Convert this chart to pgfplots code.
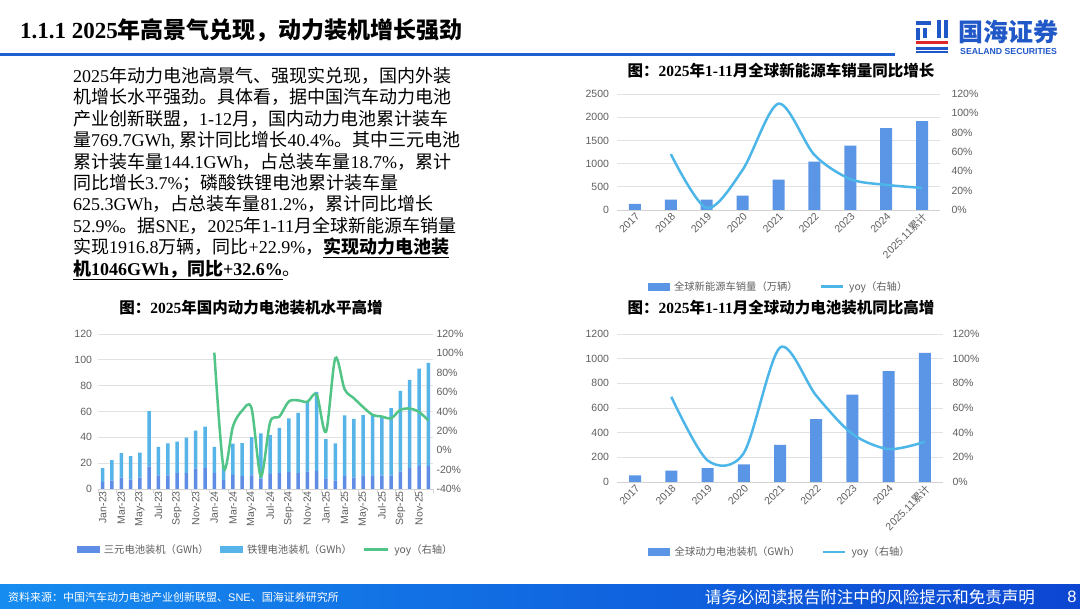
\documentclass[border=0pt]{standalone}
\usepackage{fontspec}
\usepackage{pgfplots}
\usepackage{pgfplotstable}
\pgfplotsset{compat=1.18}
\setmainfont{Liberation Serif}
\newfontfamily\cjk{Noto Sans CJK SC}
\newfontfamily\tnr{Liberation Serif}
\newfontfamily\arial{Liberation Sans}
\newcommand\en[1]{{\tnr #1}}

\definecolor{barblue}{RGB}{91,150,230}
\definecolor{lineblue}{RGB}{77,182,232}
\definecolor{ncm}{RGB}{95,140,228}
\definecolor{lfp}{RGB}{86,180,233}
\definecolor{yoygreen}{RGB}{82,196,136}
\definecolor{gridgray}{RGB}{226,226,226}
\definecolor{axgray}{RGB}{210,210,210}
\definecolor{tickgray}{RGB}{95,95,95}
\definecolor{hdrblue}{RGB}{30,95,210}
\definecolor{logoblue}{RGB}{32,88,200}
\definecolor{logored}{RGB}{220,40,40}
\definecolor{footL}{RGB}{22,140,240}
\definecolor{footR}{RGB}{12,70,210}

% global NEV sales (10k units), yoy %
\pgfplotstableread{
idx sales yoy
0 130 nan
1 223 57.8
2 222 2
3 310 41.5
4 656 110
5 1045 57
6 1390 32
7 1765 26
8 1917 22.9
}\nevtable

% global power battery installs (GWh), yoy %
\pgfplotstableread{
idx gwh yoy
0 54 nan
1 92 69
2 113 17.5
3 143 23.5
4 302 109
5 510 70
6 709 39
7 898 26.7
8 1046 32.6
}\battable

% domestic monthly installs: NCM, LFP (GWh), total yoy %
\pgfplotstableread{
idx ncm lfp yoy
0 5.5 10.7 nan
1 6.5 15.9 nan
2 8.8 19.0 nan
3 7.3 18.2 nan
4 8.8 19.3 nan
5 17.4 42.9 nan
6 10.6 22.1 nan
7 10.6 24.7 nan
8 12.2 24.4 nan
9 12.2 27.5 nan
10 15.8 29.3 nan
11 16.4 31.8 nan
12 12.5 20.2 100.8
13 6.8 11.2 -18.5
14 10.9 24.3 24.5
15 9.9 25.6 41
16 10.6 29.6 43.4
17 8.0 35.0 -27
18 11.7 30.0 29
19 12.2 35.2 34.8
20 13.0 41.6 50.3
21 12.2 46.8 51.5
22 13.5 54.2 50
23 14.0 61.2 57.5
24 8.3 30.3 19
25 6.5 28.8 95
26 9.9 47.1 63
27 8.8 45.5 53.7
28 10.6 46.6 44.5
29 10.6 47.4 36.6
30 10.4 45.5 34.8
31 10.4 52.2 33
32 13.5 62.5 41.7
33 16.1 68.4 43
34 17.9 75.3 39.6
35 17.9 79.7 30.7
}\domtable

\pgfplotsset{
  every axis/.append style={
    scale only axis, anchor=south west,
    major tick length=0pt,
    /pgf/number format/assume math mode=true,
    /pgf/number format/1000 sep={},
    tick label style={font=\arial\fontsize{10.5}{12}\selectfont, text=tickgray},
  },
  leftax/.style={
    axis x line*=bottom, axis y line*=left,
    y axis line style={draw=none},
    x axis line style={draw=axgray, line width=0.8pt},
    ymajorgrids, grid style={draw=gridgray, line width=0.8pt},
  },
  rightax/.style={
    axis y line*=right, axis x line=none, xtick=\empty,
    y axis line style={draw=none},
    yticklabel={\pgfmathprintnumber{\tick}\%},
  },
  lgd/.style={legend style={draw=none, fill=none, legend columns=-1,
    font=\cjk\fontsize{10.3}{12}\selectfont, text=tickgray,
    /tikz/every odd column/.append style={column sep=3pt},
    /tikz/every even column/.append style={column sep=20pt}}},
}

\begin{document}
\begin{tikzpicture}
\path[use as bounding box, fill=white] (0pt,0pt) rectangle (1080pt,-609pt);

% header
\node[anchor=west, inner sep=0] at (20pt,-30pt)
  {\cjk\bfseries\fontsize{23}{27}\selectfont \en{1.1.1 2025}年高景气兑现，动力装机增长强劲};
\fill[hdrblue] (0pt,-53pt) rectangle (895pt,-56pt);

% logo
\fill[logoblue] (916pt,-21pt) rectangle (931pt,-25pt);
\fill[logoblue] (916pt,-28pt) rectangle (920pt,-40pt);
\fill[logoblue] (923pt,-28pt) rectangle (927pt,-38pt);
\fill[logoblue] (937pt,-20pt) rectangle (941pt,-38pt);
\fill[logoblue] (944pt,-20pt) rectangle (948pt,-38pt);
\fill[logored] (916pt,-41pt) rectangle (948pt,-44.5pt);
\fill[logoblue] (916pt,-47pt) rectangle (948pt,-50pt);
\fill[logoblue] (916pt,-51.5pt) rectangle (948pt,-53.5pt);
\node[anchor=west, inner sep=0, text=logoblue] at (958pt,-32pt)
  {\cjk\bfseries\fontsize{25}{28}\selectfont 国海证券};
\node[anchor=west, inner sep=0, text=logoblue] at (960pt,-51.5pt)
  {\arial\bfseries\fontsize{8.7}{10}\selectfont SEALAND SECURITIES};

% body text
\begin{scope}[every node/.style={anchor=base west, inner sep=0, font=\cjk\fontsize{18}{21}\selectfont}]
\node at (73pt,-82.5pt) {\en{2025}年动力电池高景气、强现实兑现，国内外装};
\node at (73pt,-103.9pt) {机增长水平强劲。具体看，据中国汽车动力电池};
\node at (73pt,-125.3pt) {产业创新联盟，\en{1-12}月，国内动力电池累计装车};
\node at (73pt,-146.7pt) {量\en{769.7GWh, }累计同比增长\en{40.4\%}。其中三元电池};
\node at (73pt,-168.1pt) {累计装车量\en{144.1GWh}，占总装车量\en{18.7\%}，累计};
\node at (73pt,-189.5pt) {同比增长\en{3.7\%}；磷酸铁锂电池累计装车量};
\node at (73pt,-210.9pt) {\en{625.3GWh}，占总装车量\en{81.2\%}，累计同比增长};
\node at (73pt,-232.3pt) {\en{52.9\%}。据\en{SNE}，\en{2025}年\en{1-11}月全球新能源车销量};
\node at (73pt,-253.7pt) {实现\en{1916.8}万辆，同比\en{+22.9\%}，\underline{\bfseries 实现动力电池装}};
\node at (73pt,-275.1pt) {\underline{\bfseries 机\en{1046GWh}，同比\en{+32.6\%}}。};
\end{scope}

% chart titles
\begin{scope}[every node/.style={inner sep=0, font=\cjk\bfseries\fontsize{15.5}{18}\selectfont}]
\node at (781pt,-71pt) {图：\en{2025}年\en{1-11}月全球新能源车销量同比增长};
\node at (781pt,-308pt) {图：\en{2025}年\en{1-11}月全球动力电池装机同比高增};
\node at (251pt,-308pt) {图：\en{2025}年国内动力电池装机水平高增};
\end{scope}

% ---- chart A: global NEV sales
\begin{axis}[leftax, at={(617pt,-210pt)}, width=323pt, height=116pt,
  xmin=-0.5, xmax=8.5, ymin=0, ymax=2500, ytick={0,500,...,2500},
  ybar, bar width=12pt,
  xtick={0,...,8},
  xticklabels={2017,2018,2019,2020,2021,2022,2023,2024,{2025.11{\cjk 累计}}},
  x tick label style={rotate=45, anchor=north east, inner sep=1pt},
  yticklabel style={xshift=-4.5pt}]
\addplot[fill=barblue, draw=none] table[x=idx, y=sales] {\nevtable};
\end{axis}
\begin{axis}[rightax, lgd, at={(617pt,-210pt)}, width=323pt, height=116pt,
  xmin=-0.5, xmax=8.5, ymin=0, ymax=120, ytick={0,20,...,120},
  yticklabel style={xshift=8pt},
  legend style={at={(0.5,-0.66)}, anchor=center}]
\addlegendimage{legend image code/.code={\fill[barblue] (0pt,-3.5pt) rectangle (21pt,3.5pt);}}
\addlegendentry{全球新能源车销量（万辆）}
\addplot[lineblue, line width=2.5pt, smooth,
  legend image code/.code={\draw[lineblue, line width=2.5pt] (0pt,0pt) -- (22pt,0pt);}]
  table[x=idx, y=yoy] {\nevtable};
\addlegendentry{yoy（右轴）}
\end{axis}

% ---- chart B: global battery installs
\begin{axis}[leftax, at={(617pt,-482pt)}, width=326pt, height=148pt,
  xmin=-0.5, xmax=8.5, ymin=0, ymax=1200, ytick={0,200,...,1200},
  ybar, bar width=12pt,
  xtick={0,...,8},
  xticklabels={2017,2018,2019,2020,2021,2022,2023,2024,{2025.11{\cjk 累计}}},
  x tick label style={rotate=45, anchor=north east, inner sep=1pt},
  yticklabel style={xshift=-4.5pt}]
\addplot[fill=barblue, draw=none] table[x=idx, y=gwh] {\battable};
\end{axis}
\begin{axis}[rightax, lgd, at={(617pt,-482pt)}, width=326pt, height=148pt,
  xmin=-0.5, xmax=8.5, ymin=0, ymax=120, ytick={0,20,...,120},
  yticklabel style={xshift=6pt},
  legend style={at={(0.5,-0.473)}, anchor=center}]
\addlegendimage{legend image code/.code={\fill[barblue] (0pt,-3.5pt) rectangle (21pt,3.5pt);}}
\addlegendentry{全球动力电池装机（GWh）}
\addplot[lineblue, line width=2.5pt, smooth,
  legend image code/.code={\draw[lineblue, line width=2.5pt] (0pt,0pt) -- (22pt,0pt);}]
  table[x=idx, y=yoy] {\battable};
\addlegendentry{yoy（右轴）}
\end{axis}

% ---- chart C: domestic monthly installs
\begin{axis}[leftax, at={(98pt,-489pt)}, width=335pt, height=155pt,
  xmin=-0.5, xmax=35.5, ymin=0, ymax=120, ytick={0,20,...,120},
  ybar stacked, bar width=3.5pt,
  xtick={0,2,...,34},
  xticklabels={Jan-23,Mar-23,May-23,Jul-23,Sep-23,Nov-23,
    Jan-24,Mar-24,May-24,Jul-24,Sep-24,Nov-24,
    Jan-25,Mar-25,May-25,Jul-25,Sep-25,Nov-25},
  x tick label style={rotate=90, anchor=east, inner sep=2pt,
    font=\arial\fontsize{10.5}{12}\selectfont},
  extra x ticks={-0.5,1.5,...,35.5}, extra x tick labels={},
  extra x tick style={major tick length=4pt, tick align=outside,
    tick style={draw=axgray, line width=0.8pt}},
  yticklabel style={xshift=-2.5pt}]
\addplot[fill=ncm, draw=none] table[x=idx, y=ncm] {\domtable};
\addplot[fill=lfp, draw=none] table[x=idx, y=lfp] {\domtable};
\end{axis}
\begin{axis}[rightax, lgd, at={(98pt,-489pt)}, width=335pt, height=155pt,
  xmin=-0.5, xmax=35.5, ymin=-40, ymax=120, ytick={-40,-20,...,120},
  legend style={at={(0.5,-0.39)}, anchor=center,
    /tikz/every even column/.append style={column sep=9pt}}]
\addlegendimage{legend image code/.code={\fill[ncm] (0pt,-3pt) rectangle (22pt,3pt);}}
\addlegendentry{三元电池装机（GWh）}
\addlegendimage{legend image code/.code={\fill[lfp] (0pt,-3pt) rectangle (22pt,3pt);}}
\addlegendentry{铁锂电池装机（GWh）}
\addplot[yoygreen, line width=2.5pt, smooth,
  legend image code/.code={\draw[yoygreen, line width=2.5pt] (0pt,0pt) -- (24pt,0pt);}]
  table[x=idx, y=yoy] {\domtable};
\addlegendentry{yoy（右轴）}
\end{axis}

% footer
\shade[left color=footL, right color=footR] (0pt,-585pt) rectangle (1080pt,-609pt);
\node[anchor=west, inner sep=0, text=white] at (8pt,-597pt)
  {\cjk\fontsize{11}{13}\selectfont 资料来源：中国汽车动力电池产业创新联盟、{\arial SNE}、国海证券研究所};
\node[anchor=east, inner sep=0, text=white] at (1035pt,-597pt)
  {\cjk\fontsize{16.5}{19}\selectfont 请务必阅读报告附注中的风险提示和免责声明};
\node[inner sep=0, text=white] at (1072pt,-597pt) {\arial\fontsize{16.5}{19}\selectfont 8};
\end{tikzpicture}
\end{document}
